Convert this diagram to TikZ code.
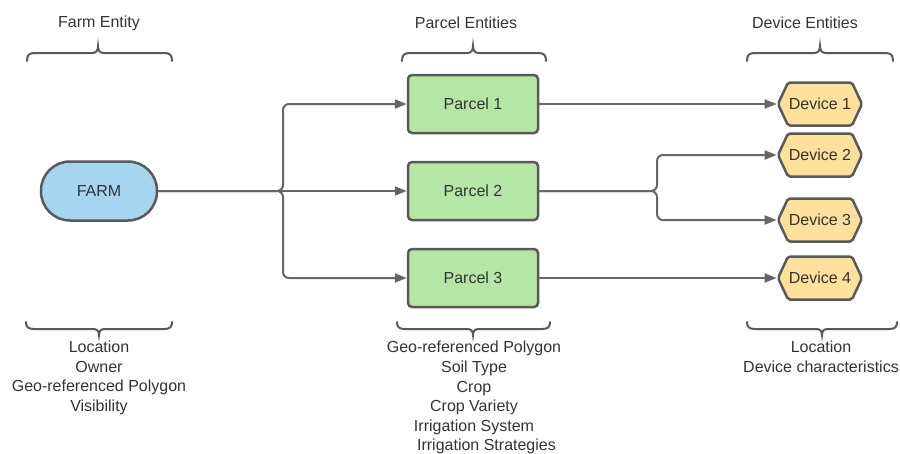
\documentclass[tikz,border=0pt]{standalone}
\usepackage{fontspec}
\setmainfont{Liberation Sans}
\usetikzlibrary{arrows.meta,shapes.symbols}
\definecolor{farmfill}{HTML}{A6D5F0}
\definecolor{parcelfill}{HTML}{B5E6A6}
\definecolor{devfill}{HTML}{FFE09C}
\definecolor{bordercol}{HTML}{595959}
\definecolor{linecol}{HTML}{666666}
\definecolor{txt}{HTML}{333333}
\newcommand{\mybraceup}[4]{% x1, xm, x2 ; #4 unused
  \draw[bracestyle] (#1,61) .. controls (#1,55) and (#1+2,53) .. (#1+8,53) -- (#2-6,53)
    .. controls (#2-2,53) and (#2,51) .. (#2,46)
    .. controls (#2,51) and (#2+2,53) .. (#2+6,53) -- (#3-8,53)
    .. controls (#3-2,53) and (#3,55) .. (#3,61);}
\newcommand{\mybracedown}[4]{%
  \draw[bracestyle] (#1,322) .. controls (#1,327) and (#1+2,329) .. (#1+8,329) -- (#2-6,329)
    .. controls (#2-2,329) and (#2,331) .. (#2,335)
    .. controls (#2,331) and (#2+2,329) .. (#2+6,329) -- (#3-8,329)
    .. controls (#3-2,329) and (#3,327) .. (#3,322);}
\begin{document}
\begin{tikzpicture}[x=1pt,y=-1pt,
  every node/.style={text=txt,font=\fontsize{16}{19.6}\selectfont},
  farmbox/.style={draw=bordercol,line width=2.5pt,fill=farmfill,rounded corners=29pt,
    minimum width=116pt,minimum height=59pt,inner sep=0pt},
  parcelbox/.style={draw=bordercol,line width=2.5pt,fill=parcelfill,rounded corners=4pt,
    minimum width=130pt,minimum height=58pt,inner sep=0pt},
  devbox/.style={draw=bordercol,line width=2.5pt,fill=devfill,shape=signal,
    signal to=west and east,signal pointer angle=130,rounded corners=2pt,
    minimum width=84pt,minimum height=43pt,inner sep=0pt},
  conn/.style={draw=linecol,line width=2pt,rounded corners=6pt,
    -{Triangle[length=12pt,width=9pt]}},
  plain/.style={draw=linecol,line width=2pt,rounded corners=6pt},
  bracestyle/.style={draw=bordercol,line width=2pt,line cap=round},
  listtext/.style={align=center,anchor=north,inner sep=0pt}
]
\useasboundingbox (0,0) rectangle (900,453);

% titles
\node (tfarm) at (99,23) {Farm Entity};
\node (tparcel) at (466,23) {Parcel Entities};
\node (tdev) at (805,23) {Device Entities};

% braces
\mybraceup{27}{98}{172}{}
\mybraceup{402}{473}{546}{}
\mybraceup{747}{820}{893}{}
\mybracedown{26}{99}{172}{}
\mybracedown{397}{473}{550}{}
\mybracedown{747}{822}{897}{}

% nodes
\node[farmbox] (farm) at (99,191) {FARM};
\node[parcelbox] (p1) at (473,104) {Parcel 1};
\node[parcelbox] (p2) at (473,191) {Parcel 2};
\node[parcelbox] (p3) at (473,278) {Parcel 3};
\node[devbox] (d1) at (820,104) {Device 1};
\node[devbox] (d2) at (820,155) {Device 2};
\node[devbox] (d3) at (820,220) {Device 3};
\node[devbox] (d4) at (820,278) {Device 4};

\coordinate (j1) at (283,191);
\coordinate (j2) at (657,191);

% connectors
\draw[conn] (farm.east) -- (p2.west);
\draw[conn] (farm.east) -- (j1) |- (p1.west);
\draw[conn] (farm.east) -- (j1) |- (p3.west);
\draw[conn] (p1.east) -- (d1.west);
\draw[conn] (p2.east) -- (j2) |- (d2.west);
\draw[conn] (p2.east) -- (j2) |- (d3.west);
\draw[conn] (p3.east) -- (d4.west);

% attribute lists
\node[listtext] (lfarm) at (99,341) {Location\\Owner\\Geo-referenced Polygon\\Visibility};
\node[listtext] (lparcel) at (474,341) {Geo-referenced Polygon\\Soil Type\\Crop\\Crop Variety\\Irrigation System\\\hspace*{25pt}Irrigation Strategies};
\node[listtext] (ldev) at (821,341) {Location\\Device characteristics};
\end{tikzpicture}
\end{document}
